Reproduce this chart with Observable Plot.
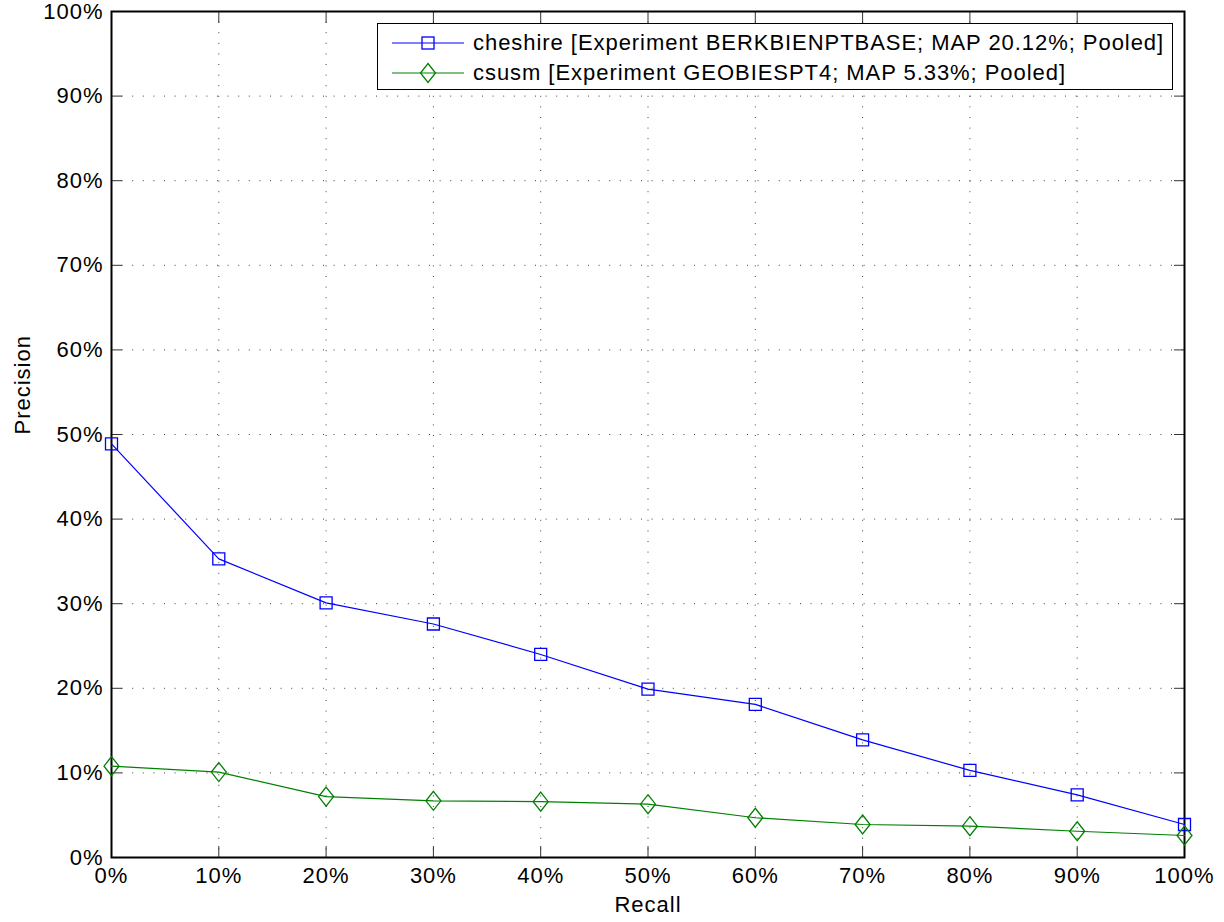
<!DOCTYPE html>
<html>
<head>
<meta charset="utf-8">
<script src="https://cdn.jsdelivr.net/npm/d3@7"></script>
<script src="https://cdn.jsdelivr.net/npm/@observablehq/plot@0.6"></script>
<style>
  body { margin: 0; background: #fff; }
  #wrap { position: relative; width: 1224px; height: 922px; font-family: "Liberation Sans", Arial, sans-serif; }
  #legend { position: absolute; left: 377px; top: 23px; width: 796px; height: 67px; border: 1px solid #000; background: #fff; box-sizing: border-box; font-size: 22px; letter-spacing: 0.95px; }
  .row { position: absolute; left: 0; height: 30px; display: flex; align-items: center; }
  .row svg { margin-left: 14px; }
  .row span { margin-left: 9px; white-space: nowrap; }
</style>
</head>
<body>
<div id="wrap"></div>
<script>
const recall = [0, 10, 20, 30, 40, 50, 60, 70, 80, 90, 100];
const cheshire = [48.9, 35.3, 30.1, 27.6, 24.0, 19.9, 18.1, 13.9, 10.3, 7.4, 3.9];
const csusm = [10.8, 10.1, 7.2, 6.7, 6.6, 6.3, 4.7, 3.9, 3.7, 3.1, 2.6];
const seriesNames = ["cheshire [Experiment BERKBIENPTBASE; MAP 20.12%; Pooled]", "csusm [Experiment GEOBIESPT4; MAP 5.33%; Pooled]"];
const seriesColors = ["#0000ff", "#008000"];
const ticks = [0, 10, 20, 30, 40, 50, 60, 70, 80, 90, 100];

const squareSym = { draw(ctx) { const h = 6; ctx.moveTo(-h, -h); ctx.lineTo(h, -h); ctx.lineTo(h, h); ctx.lineTo(-h, h); ctx.closePath(); } };
const diamondSym = { draw(ctx) { const w = 7.5, h = 9.5; ctx.moveTo(0, -h); ctx.lineTo(w, 0); ctx.lineTo(0, h); ctx.lineTo(-w, 0); ctx.closePath(); } };

const rowsA = recall.map((r, i) => ({ r, p: cheshire[i] }));
const rowsB = recall.map((r, i) => ({ r, p: csusm[i] }));
const fmt = d => d + "%";
const font = "Liberation Sans, Arial, sans-serif";

const chart = Plot.plot({
  width: 1224,
  height: 922,
  marginLeft: 111,
  marginRight: 40,
  marginTop: 11,
  marginBottom: 65,
  style: { fontFamily: font, fontSize: "22px", letterSpacing: "1px", background: "#fff", color: "#000" },
  x: { domain: [0, 100], label: null },
  y: { domain: [0, 100], label: null },
  marks: [
    Plot.ruleX(ticks.slice(1, -1), { stroke: "#000", strokeWidth: 1, strokeDasharray: "1,9.6", strokeOpacity: 0.75 }),
    Plot.ruleY(ticks.slice(1, -1), { stroke: "#000", strokeWidth: 1, strokeDasharray: "1,9.6", strokeOpacity: 0.75 }),
    Plot.axisX({ ticks, tickFormat: fmt, tickSize: -11, tickPadding: 21, fontSize: 22, stroke: "#333" }),
    Plot.axisX({ anchor: "top", ticks, tickFormat: () => "", tickSize: -11, stroke: "#333" }),
    Plot.axisY({ ticks, tickFormat: fmt, tickSize: -11, tickPadding: 19, fontSize: 22, stroke: "#333" }),
    Plot.axisY({ anchor: "right", ticks, tickFormat: () => "", tickSize: -11, stroke: "#333" }),
    Plot.frame({ stroke: "#000", strokeWidth: 2 }),
    Plot.line(rowsA, { x: "r", y: "p", stroke: seriesColors[0], strokeWidth: 1.2 }),
    Plot.dot(rowsA, { x: "r", y: "p", stroke: seriesColors[0], symbol: squareSym, strokeWidth: 1.3, fill: "none" }),
    Plot.line(rowsB, { x: "r", y: "p", stroke: seriesColors[1], strokeWidth: 1.2 }),
    Plot.dot(rowsB, { x: "r", y: "p", stroke: seriesColors[1], symbol: diamondSym, strokeWidth: 1.3, fill: "none" }),
    Plot.text(["Recall"], { frameAnchor: "bottom", dy: 54, fontSize: 22, text: d => d }),
    Plot.text(["Precision"], { frameAnchor: "left", dx: -89, rotate: -90, fontSize: 22, text: d => d })
  ]
});
const wrap = document.getElementById("wrap");
wrap.appendChild(chart);

const legend = document.createElement("div");
legend.id = "legend";
const syms = [
  '<rect x="30" y="9" width="12" height="12" fill="none" stroke="' + seriesColors[0] + '" stroke-width="1.3"/>',
  '<path d="M36,5.5 L43.5,15 L36,24.5 L28.5,15 Z" fill="none" stroke="' + seriesColors[1] + '" stroke-width="1.3"/>'
];
seriesNames.forEach((name, i) => {
  const row = document.createElement("div");
  row.className = "row";
  row.style.top = (4 + i * 30) + "px";
  row.innerHTML = '<svg width="72" height="30"><line x1="0" x2="72" y1="15" y2="15" stroke="' + seriesColors[i] + '" stroke-width="1.2"/>' + syms[i] + '</svg><span>' + name + '</span>';
  legend.appendChild(row);
});
wrap.appendChild(legend);
</script>
</body>
</html>
